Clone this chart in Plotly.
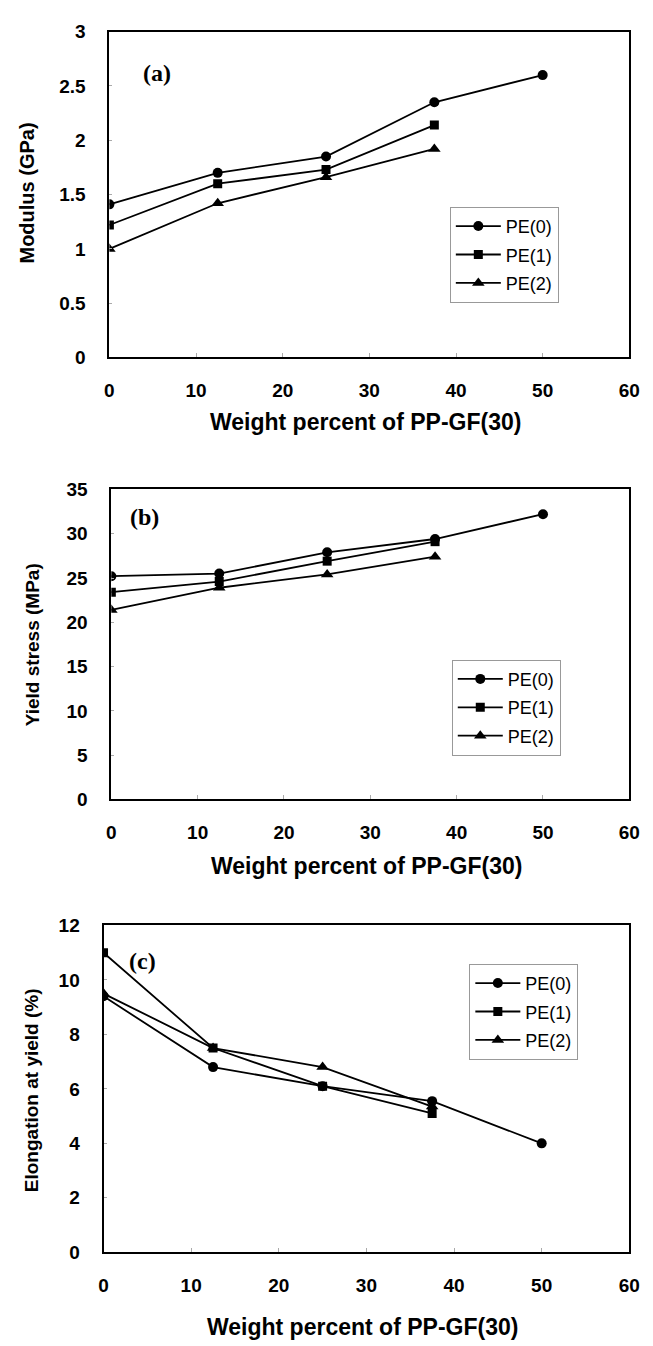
import plotly.graph_objects as go

# ---------------- data ----------------
x_pe0 = [0, 12.5, 25, 37.5, 50]
x_pe12 = [0, 12.5, 25, 37.5]
series_names = ["PE(0)", "PE(1)", "PE(2)"]

mod_pe0 = [1.41, 1.70, 1.85, 2.35, 2.60]
mod_pe1 = [1.22, 1.60, 1.73, 2.14]
mod_pe2 = [1.00, 1.42, 1.66, 1.92]

ys_pe0 = [25.2, 25.5, 27.9, 29.4, 32.2]
ys_pe1 = [23.4, 24.6, 26.9, 29.1]
ys_pe2 = [21.4, 23.9, 25.4, 27.4]

el_pe0 = [9.4, 6.8, 6.1, 5.55, 4.0]
el_pe1 = [11.0, 7.5, 6.1, 5.1]
el_pe2 = [9.5, 7.5, 6.8, 5.35]

y_titles = ["Modulus (GPa)", "Yield stress (MPa)", "Elongation at yield (%)"]
x_title = "Weight percent of PP-GF(30)"
panel_labels = ["(a)", "(b)", "(c)"]
x_ticks = [0, 10, 20, 30, 40, 50, 60]

# ---------------- layout helpers ----------------
W, H = 653, 1346
def px(v): return v / W
def py(v): return 1 - v / H

panels = [
    dict(xl=107, xr=640, yt=22, yb=353, yr=[0, 3], dt=0.5, lab=(5.5, 2.62),
         leg=(456, 200), ytx=23, yty=186, yts=20, xty=419, data=[mod_pe0, mod_pe1, mod_pe2]),
    dict(xl=109, xr=640, yt=487, yb=802, yr=[0, 35], dt=5, lab=(3.9, 31.9),
         leg=(458, 660), ytx=29, yty=645, yts=19, xty=870, data=[ys_pe0, ys_pe1, ys_pe2]),
    dict(xl=101, xr=640, yt=930, yb=1262, yr=[0, 12], dt=2, lab=(4.5, 10.7),
         leg=(476, 969), ytx=28, yty=1097, yts=19, xty=1338, data=[el_pe0, el_pe1, el_pe2]),
]

symbols = ["circle", "square", "triangle-up"]
msizes = [10, 9, 11]
tick_font = dict(family="Liberation Sans, Arial", size=19, color="black", weight="bold")

fig = go.Figure()
layout = dict(width=W, height=H, margin=dict(l=0, r=0, t=0, b=0),
              paper_bgcolor="white", plot_bgcolor="white", showlegend=True,
              annotations=[])

for i, p in enumerate(panels):
    n = "" if i == 0 else str(i + 1)
    xa, ya = "xaxis" + n, "yaxis" + n
    legname = "legend" + n
    for j in range(3):
        xs = x_pe0 if j == 0 else x_pe12
        fig.add_trace(go.Scatter(
            x=xs, y=p["data"][j], mode="lines+markers", name=series_names[j],
            legendgroup=f"g{i}{j}",
            line=dict(color="black", width=1.8),
            marker=dict(symbol=symbols[j], size=msizes[j], color="black"),
            xaxis="x" + n, yaxis="y" + n, legend=legname))
    layout[xa] = dict(domain=[px(p["xl"]), px(p["xr"])], anchor="y" + n,
                      range=[0, 60], tickvals=x_ticks, showgrid=False, zeroline=False,
                      showline=True, linecolor="black", linewidth=2, mirror=True,
                      ticks="inside", ticklen=4, tickcolor="#aaaaaa", tickwidth=1,
                      tickfont=tick_font, ticklabelstandoff=15)
    layout[ya] = dict(domain=[py(p["yb"]), py(p["yt"])], anchor="x" + n,
                      range=p["yr"], dtick=p["dt"], showgrid=False, zeroline=False,
                      showline=True, linecolor="black", linewidth=2, mirror=True,
                      ticks="inside", ticklen=3, tickcolor="#aaaaaa", tickwidth=1,
                      tickfont=tick_font, ticklabelstandoff=18)
    layout[legname] = dict(x=px(p["leg"][0]), y=py(p["leg"][1]), xanchor="left",
                           yanchor="top", bgcolor="white", bordercolor="#999999",
                           borderwidth=1, traceorder="grouped", tracegroupgap=2,
                           itemwidth=45,
                           font=dict(family="Liberation Sans, Arial", size=18, color="black"))
    layout["annotations"] += [
        dict(text=panel_labels[i], x=p["lab"][0], y=p["lab"][1], xref="x" + n, yref="y" + n,
             xanchor="center", yanchor="middle", showarrow=False,
             font=dict(family="Liberation Serif, Times New Roman", size=24,
                       color="black", weight="bold")),
        dict(text=y_titles[i], x=px(p["ytx"]), y=py(p["yty"]), xref="paper", yref="paper",
             xanchor="center", yanchor="middle", textangle=-90, showarrow=False,
             font=dict(family="Liberation Sans, Arial", size=p["yts"], color="black",
                       weight="bold")),
        dict(text=x_title, x=px((p["xl"] + p["xr"]) / 2 - 4), y=py(p["xty"]),
             xref="paper", yref="paper", xanchor="center", yanchor="middle", showarrow=False,
             font=dict(family="Liberation Sans, Arial", size=23, color="black", weight="bold")),
    ]

fig.update_layout(**layout)
fig.write_html("out.html", config={"displayModeBar": False},
               post_script="document.body.style.margin='0';"
                           "document.body.style.overflow='hidden';")
